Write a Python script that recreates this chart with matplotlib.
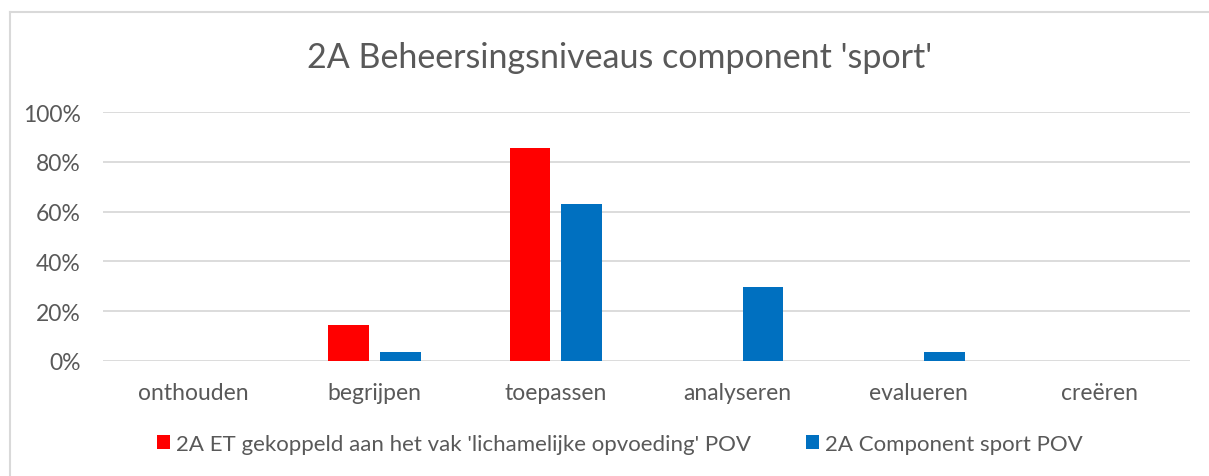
import numpy as np
import matplotlib.pyplot as plt
from matplotlib.lines import Line2D
from matplotlib.ticker import PercentFormatter

categories = ["onthouden", "begrijpen", "toepassen", "analyseren", "evalueren", "creëren"]
et_lo = [0.0, 0.143, 0.857, 0.0, 0.0, 0.0]
comp_sport = [0.0, 0.037, 0.630, 0.296, 0.037, 0.0]
series_names = ["2A ET gekoppeld aan het vak 'lichamelijke opvoeding' POV",
                "2A Component sport POV"]
title = "2A Beheersingsniveaus component 'sport'"

plt.rcParams['font.family'] = ['Lato', 'DejaVu Sans']
txt = '#595959'
grid = '#d9d9d9'

fig = plt.figure(figsize=(12.09, 4.77), dpi=100)
ax = fig.add_axes([103 / 1209, 1 - 362 / 477, (1190 - 103) / 1209, (362 - 113) / 477])

x = np.arange(len(categories))
w = 0.226
off = 0.143
ax.bar(x - off, et_lo, w, color='#FF0000', label=series_names[0], zorder=3)
ax.bar(x + off, comp_sport, w, color='#0070C0', label=series_names[1], zorder=3)

ax.set_xlim(-0.5, len(categories) - 0.5)
ax.set_ylim(0, 1)
ax.set_yticks(np.arange(0, 1.01, 0.2))
ax.yaxis.set_major_formatter(PercentFormatter(1.0, decimals=0))
ax.set_xticks(x)
ax.set_xticklabels(categories)
ax.grid(axis='y', color=grid, linewidth=1.3, zorder=0)
for s in ax.spines.values():
    s.set_visible(False)
ax.tick_params(axis='both', length=0, labelcolor=txt)
ax.tick_params(axis='x', pad=15, labelsize=16.5)
ax.tick_params(axis='y', pad=16, labelsize=16.5)

fig.text(620 / 1209, 1 - 68 / 477, title, ha='center', va='baseline', fontsize=24.5, color=txt)

leg = ax.legend(loc='center', bbox_to_anchor=(620 / 1209, 1 - 445 / 477),
                bbox_transform=fig.transFigure, ncol=2, frameon=False,
                fontsize=16, handlelength=0.58, handleheight=0.58,
                handletextpad=0.28, columnspacing=2.45)
for t in leg.get_texts():
    t.set_color(txt)

# chart border (only top and left edges visible in the crop)
fig.add_artist(Line2D([10 / 1209, 10 / 1209], [0, 1 - 13 / 477], color=grid, lw=1.5))
fig.add_artist(Line2D([10 / 1209, 1], [1 - 13 / 477, 1 - 13 / 477], color=grid, lw=1.5))

fig.savefig('out.png', dpi=100)
